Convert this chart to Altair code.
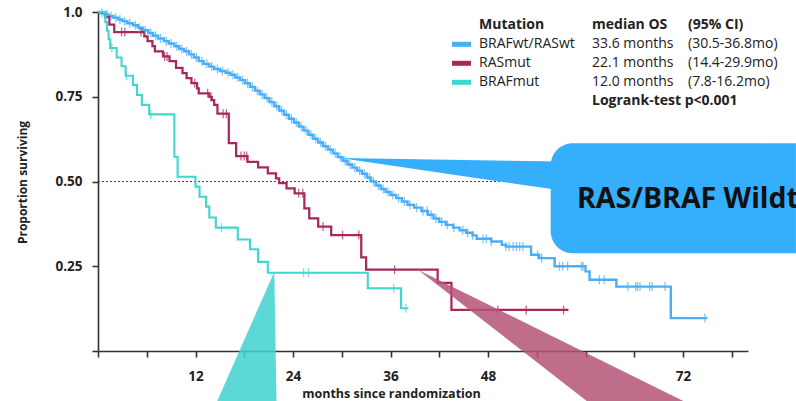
import altair as alt
import pandas as pd

# ---------------- data ----------------
groups = ["BRAFwt/RASwt", "RASmut", "BRAFmut"]
line_colors = ["#4aaef6", "#a8285e", "#3fd6cf"]
median_os = ["33.6 months", "22.1 months", "12.0 months"]
ci95 = ["(30.5-36.8mo)", "(14.4-29.9mo)", "(7.8-16.2mo)"]

# BRAFwt/RASwt: event times (months) and survival after each step
wt_times = [0.3, 0.8, 1.3, 1.9, 2.5, 3.0, 3.6, 4.3, 4.9, 5.5, 6.2, 6.8, 7.4, 8.1, 8.7,
            9.4, 10.0, 10.6, 11.2, 11.8, 12.4, 13.0, 13.7, 14.3, 15.0, 15.7, 16.3, 16.9,
            17.5, 18.1, 18.7, 19.3, 19.9, 20.5, 21.1, 21.7, 22.3, 22.9, 23.5, 24.1, 24.7,
            25.3, 25.9, 26.5, 27.1, 27.7, 28.3, 28.9, 29.5, 30.1, 30.7, 31.3, 31.9, 32.5,
            33.1, 33.6, 34.2, 34.8, 35.4, 36.0, 36.7, 37.4, 38.1, 38.9, 39.8, 40.6, 41.3,
            42.0, 42.8, 43.7, 44.5, 45.3, 46.1, 46.6, 48.4, 49.7, 50.2, 53.3, 54.3, 56.2,
            60.0, 60.5, 63.8, 70.5]
wt_surv = [0.997, 0.993, 0.988, 0.983, 0.978, 0.973, 0.967, 0.961, 0.954, 0.946, 0.938,
           0.930, 0.922, 0.914, 0.907, 0.899, 0.891, 0.884, 0.875, 0.866, 0.855, 0.847,
           0.839, 0.832, 0.826, 0.821, 0.815, 0.807, 0.799, 0.790, 0.779, 0.768, 0.757,
           0.746, 0.734, 0.722, 0.709, 0.697, 0.685, 0.674, 0.662, 0.650, 0.638, 0.626,
           0.615, 0.604, 0.594, 0.583, 0.572, 0.561, 0.550, 0.541, 0.532, 0.523, 0.512,
           0.500, 0.488, 0.478, 0.469, 0.460, 0.451, 0.441, 0.431, 0.423, 0.413, 0.402,
           0.391, 0.381, 0.372, 0.364, 0.356, 0.349, 0.341, 0.331, 0.323, 0.313, 0.308,
           0.284, 0.274, 0.250, 0.235, 0.210, 0.190, 0.097]
wt_end = 75.0
wt_censor = [0.5, 1.1, 1.6, 2.2, 2.7, 3.3, 3.9, 4.6, 5.1, 5.8, 6.5, 7.1, 7.7, 8.4, 9.0,
             9.7, 10.3, 10.9, 11.5, 12.1, 12.8, 13.4, 14.0, 14.7, 15.3, 16.0, 16.6, 17.2,
             17.8, 18.4, 19.0, 19.6, 20.2, 20.8, 21.4, 22.0, 22.6, 23.2, 23.8, 24.4, 25.0,
             25.6, 26.2, 26.8, 27.4, 28.0, 28.6, 29.2, 29.8, 30.4, 31.0, 31.6, 32.2, 32.8,
             33.4, 33.9, 34.5, 35.1, 35.7, 36.3, 37.0, 37.7, 38.4, 39.2, 40.0, 40.5, 41.0,
             41.6, 42.3, 43.0, 43.8, 44.9, 45.5, 46.1, 47.4, 47.8, 48.4, 50.2, 50.6, 51.1,
             51.5, 51.9, 52.3, 54.1, 54.6, 56.8, 57.2, 57.8, 59.5, 59.7, 61.7, 62.3, 65.2,
             66.2, 66.4, 66.7, 67.9, 68.2, 69.8, 74.7]

# RASmut
ras_times = [0.9, 1.4, 2.0, 5.7, 6.1, 6.7, 7.0, 8.0, 8.8, 9.6, 10.4, 10.9, 11.5, 12.2,
             12.4, 13.7, 14.0, 14.3, 14.7, 16.1, 17.0, 18.4, 19.7, 20.9, 21.9, 22.3, 23.2,
             24.2, 25.4, 26.0, 27.1, 28.7, 32.4, 33.0, 41.8, 43.5]
ras_surv = [0.985, 0.963, 0.941, 0.928, 0.914, 0.899, 0.884, 0.869, 0.855, 0.835, 0.820,
            0.805, 0.790, 0.775, 0.760, 0.750, 0.740, 0.726, 0.700, 0.613, 0.575, 0.558,
            0.542, 0.524, 0.509, 0.495, 0.480, 0.465, 0.421, 0.391, 0.367, 0.342, 0.276,
            0.240, 0.201, 0.121]
ras_end = 57.9
ras_censor = [2.9, 3.3, 5.3, 8.2, 8.5, 11.9, 13.5, 13.9, 15.4, 15.8, 17.6, 18.0, 18.3,
              24.7, 25.2, 27.7, 30.1, 32.1, 36.5, 49.2, 52.7, 57.3]

# BRAFmut
braf_times = [0.9, 1.1, 1.3, 1.5, 2.3, 2.9, 3.4, 4.3, 4.8, 5.4, 6.3, 9.4, 9.8, 12.0,
              12.5, 13.3, 13.7, 14.5, 17.2, 18.7, 19.7, 20.9, 33.2, 37.3]
braf_surv = [0.970, 0.945, 0.920, 0.894, 0.866, 0.840, 0.812, 0.785, 0.755, 0.726, 0.698,
             0.573, 0.514, 0.485, 0.455, 0.426, 0.394, 0.364, 0.329, 0.300, 0.263, 0.231,
             0.185, 0.126]
braf_end = 38.2
braf_censor = [1.7, 3.5, 6.5, 15.2, 25.3, 25.9, 36.4, 37.9]

x_tick_values = [0, 6, 12, 18, 24, 30, 36, 42, 48, 54, 60, 66, 72, 78]
x_tick_labels = [12, 24, 36, 48, 72]
y_tick_values = [0, 0.25, 0.5, 0.75, 1.0]

# callout shapes (in data units: months / proportion)
blue_wedge_m = [29.78, 56.9]
blue_wedge_top = [0.569, 0.559]
blue_wedge_bot = [0.569, 0.474]
blue_box = dict(m=55.72, m2=85.9, s=0.6127, s2=0.288)
cyan_tri_m = [14.68, 21.70, 21.97]
cyan_tri_top = [-0.1475, 0.2339, -0.1475]
pink_tri_m = [39.42, 60.15, 72.04]
pink_tri_top = [0.239, -0.0065, -0.1475]
pink_tri_bot = [0.239, -0.1475, -0.1475]

# ---------------- build tables ----------------
series = [
    (groups[0], wt_times, wt_surv, wt_end, wt_censor),
    (groups[1], ras_times, ras_surv, ras_end, ras_censor),
    (groups[2], braf_times, braf_surv, braf_end, braf_censor),
]
line_rows, cens_rows = [], []
for g, ts, ss, end, cens in series:
    line_rows.append({"g": g, "m": 0.0, "s": 1.0})
    for t, s in zip(ts, ss):
        line_rows.append({"g": g, "m": t, "s": s})
    line_rows.append({"g": g, "m": end, "s": ss[-1]})
    for c in cens:
        sv = 1.0
        for t, s in zip(ts, ss):
            if t <= c:
                sv = s
        cens_rows.append({"g": g, "m": c, "s": sv})
lines_df = pd.DataFrame(line_rows)
cens_df = pd.DataFrame(cens_rows)

XS = alt.Scale(domain=[0, 80], nice=False, zero=False)
YS = alt.Scale(domain=[0, 1], nice=False, zero=False)
FONT = "Open Sans"
AX = "#333333"

x_axis = alt.Axis(values=x_tick_values, grid=False, domainColor=AX, domainWidth=1.6,
                  tickColor=AX, tickWidth=1.6, tickSize=6, labelFont=FONT,
                  labelFontSize=13.5, labelFontWeight="bold", labelColor="#222222",
                  labelPadding=12, labelFlush=False,
                  labelExpr="indexof([" + ",".join(str(v) for v in x_tick_labels)
                            + "], datum.value) >= 0 ? datum.label : ''",
                  title="months since randomization", titleFont=FONT, titleFontSize=12.5,
                  titleFontWeight="bold", titleColor="#222222", titleX=293, titleY=42,
                  titleBaseline="middle", titleAlign="center")
y_axis = alt.Axis(values=y_tick_values, grid=False, domainColor=AX, domainWidth=1.6,
                  tickColor=AX, tickWidth=1.6, tickSize=6, labelFont=FONT,
                  labelFontSize=13.5, labelFontWeight="bold", labelColor="#222222",
                  labelPadding=10,
                  labelExpr="datum.value == 0 ? '' : (datum.value == 1 ? '1.0' : format(datum.value, '.2f'))",
                  title="Proportion surviving", titleFont=FONT, titleFontSize=12,
                  titleFontWeight="bold", titleColor="#222222", titleAngle=270,
                  titleX=-76, titleY=170, titleBaseline="middle", titleAlign="center")

X = lambda: alt.X("m:Q", scale=XS, axis=x_axis)
Y = lambda: alt.Y("s:Q", scale=YS, axis=y_axis)

color = alt.Color("g:N", scale=alt.Scale(domain=groups, range=line_colors), legend=None)

ref_df = pd.DataFrame({"m": [0], "m2": [80], "s": [0.5]})
ref = alt.Chart(ref_df).mark_rule(color="#444444", strokeWidth=1.1, strokeDash=[2, 2]).encode(
    x=X(), x2="m2:Q", y=Y())

curves = alt.Chart(lines_df).mark_line(interpolate="step-after").encode(
    x=X(), y=Y(), color=color, detail="g:N",
    strokeWidth=alt.StrokeWidth("g:N", scale=alt.Scale(domain=groups, range=[2.4, 2.1, 1.9]),
                                legend=None))

ticks = alt.Chart(cens_df).mark_tick(orient="vertical", size=9, thickness=1.3).encode(
    x=X(), y=Y(), color=color)

bw_df = pd.DataFrame({"m": blue_wedge_m, "s": blue_wedge_top, "s2": blue_wedge_bot})
blue_wedge = alt.Chart(bw_df).mark_area(color="#35aefc", opacity=1).encode(
    x=X(), y=Y(), y2="s2:Q")
bb_df = pd.DataFrame([blue_box])
blue_rect = alt.Chart(bb_df).mark_rect(color="#35aefc", cornerRadiusTopLeft=22,
                                       cornerRadiusBottomLeft=22).encode(
    x=X(), x2="m2:Q", y=Y(), y2="s2:Q")
blue_text = alt.Chart(bb_df).mark_text(text="RAS/BRAF Wildtype", font=FONT, fontSize=28.5,
                                       fontWeight="bold", color="#111111", align="left",
                                       baseline="alphabetic").encode(
    x=alt.value(479), y=alt.value(196))

ct_df = pd.DataFrame({"m": cyan_tri_m, "s": cyan_tri_top, "s2": [cyan_tri_top[0]] * 3})
cyan_tri = alt.Chart(ct_df).mark_area(color="#3fd2cf", opacity=0.85).encode(
    x=X(), y=Y(), y2="s2:Q")
pt_df = pd.DataFrame({"m": pink_tri_m, "s": pink_tri_top, "s2": pink_tri_bot})
pink_tri = alt.Chart(pt_df).mark_area(color="#b55378", opacity=0.85).encode(
    x=X(), y=Y(), y2="s2:Q")

# ---------------- legend block ----------------
leg_layers = []
dummy = pd.DataFrame({"a": [0]})
def txt(t, x, y, bold=False, size=14):
    return alt.Chart(dummy).mark_text(text=t, font=FONT, fontSize=size,
                                      fontWeight="bold" if bold else "normal",
                                      color="#222222", align="left", baseline="middle").encode(
        x=alt.value(x), y=alt.value(y))

leg_layers.append(txt("Mutation", 381, 13, True))
leg_layers.append(txt("median OS", 494, 13, True))
leg_layers.append(txt("(95% CI)", 590, 13, True))
row_y = [32.3, 51.3, 70.3]
for i in range(3):
    leg_layers.append(alt.Chart(dummy).mark_rule(color=line_colors[i], strokeWidth=5).encode(
        x=alt.value(354), x2=alt.value(373), y=alt.value(row_y[i])))
    leg_layers.append(txt(groups[i], 381, row_y[i]))
    leg_layers.append(txt(median_os[i], 494, row_y[i]))
    leg_layers.append(txt(ci95[i], 590, row_y[i]))
leg_layers.append(txt("Logrank-test p<0.001", 494, 89, True))

chart = alt.layer(ref, curves, ticks, blue_wedge, blue_rect, blue_text, cyan_tri, pink_tri,
                  *leg_layers).properties(
    width=650, height=339,
    autosize=alt.AutoSizeParams(type="none"),
    padding={"left": 98, "top": 12, "right": 48, "bottom": 50},
    background="white",
).configure_view(stroke=None)

chart.save("out.html", embed_options={"renderer": "svg", "actions": False})
